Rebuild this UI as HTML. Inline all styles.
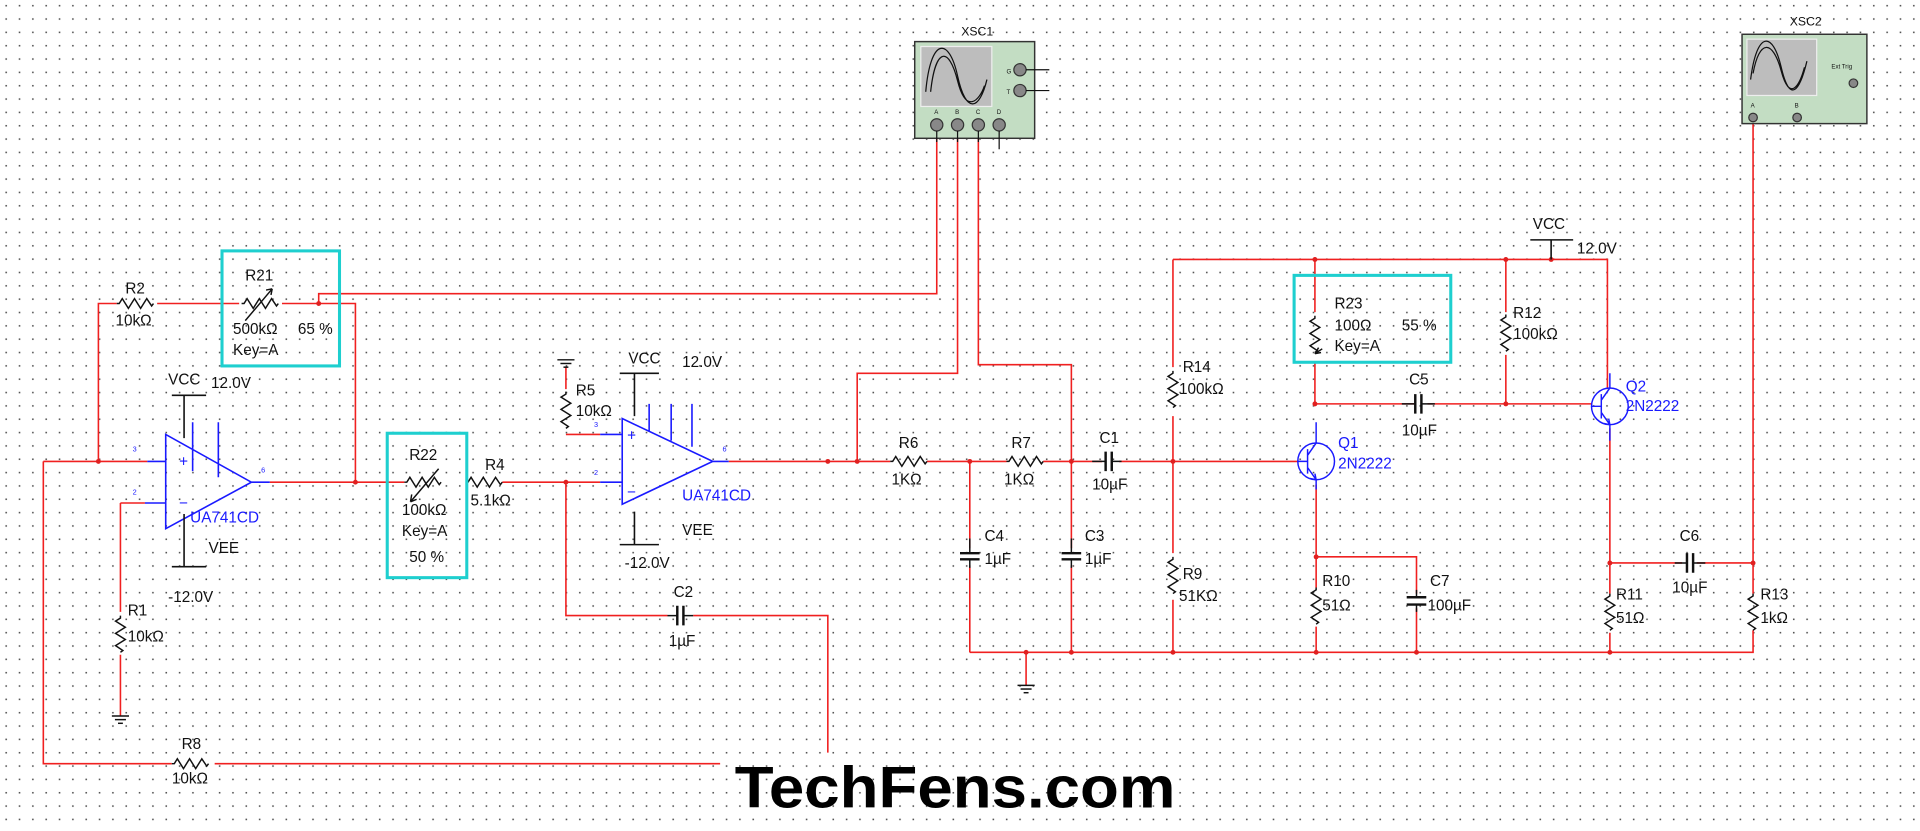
<!DOCTYPE html>
<html><head><meta charset="utf-8"><style>
html,body{margin:0;padding:0;background:#fff;}
svg{display:block}
text{font-family:"Liberation Sans",sans-serif;font-size:12.5px;fill:#111}
.b{fill:#1a1aff}
.s{font-size:6px;fill:#1a1aff}
.t5{font-size:5px}
.t9{font-size:10px}
</style></head><body>
<svg width="1920" height="831" viewBox="0 0 1568 679" xmlns="http://www.w3.org/2000/svg">
<defs>
<pattern id="g" width="10.9" height="10.9" patternUnits="userSpaceOnUse"><rect x="4" y="4" width="1.3" height="1.3" fill="#555"/></pattern>
<path id="hr" d="M0,0 h2 l2.5,-4 l5,8 l5,-8 l5,8 l5,-8 l4,6 l1.5,-2 h0" fill="none" stroke="#111" stroke-width="1.2"/>
<path id="vr" d="M0,0 v2 l-4,2.5 l8,5 l-8,5 l8,5 l-8,5 l6,4 l-2,1.5" fill="none" stroke="#111" stroke-width="1.2"/>
<g id="gnd" stroke="#111" stroke-width="1.2"><line x1="-7" y1="0" x2="7" y2="0"/><line x1="-4.5" y1="3" x2="4.5" y2="3"/><line x1="-2" y1="6" x2="2" y2="6"/></g>
</defs>
<rect width="1568" height="679" fill="url(#g)"/>

<g fill="none" stroke="#f02020" stroke-width="1.3">
<path d="M80,377 V248 H95 M128,248 H195 M230,248 H290 V394 M260,248 V240 H765 V113"/>
<path d="M35,377 H120 M35,377 V624 H140 M175,624 H588"/>
<path d="M98,411 H118 M98,411 V500 M98,535 V585"/>
<path d="M220,394 H330 M410,394 H490 M462,394 V503 H545 M566,503 H676 V615"/>
<path d="M462,300 V318 M462,355 H490"/>
<path d="M595,377 H727 M757,377 H822 M852,377 H900 M914,377 H1060"/>
<path d="M700,377 V305 H782 V113 M875,377 V298 H799 V113"/>
<path d="M792,377 V448 M792,462 V533 M875,377 V448 M875,462 V533"/>
<path d="M958,212 V300 M958,340 V452 M958,490 V533"/>
<path d="M792,533 H1432 V515 M838,533 V560"/>
<path d="M958,212 H1313 V318 M1074,212 V255 M1074,296 V330 H1155 M1166,330 H1300 M1230,212 V255 M1230,290 V330"/>
<path d="M1075,396 V455 H1157 V485 M1157,497 V533 M1075,455 V480 M1075,512 V533"/>
<path d="M1315,350 V460 H1374 M1386,460 H1432 M1315,460 V485 M1315,517 V533 M1432,460 V485 M1432,101 V460"/>
</g>
<g fill="#e02020">
<circle cx="80" cy="377" r="2"/><circle cx="260" cy="248" r="2"/><circle cx="290" cy="394" r="2"/><circle cx="462" cy="394" r="2"/>
<circle cx="676" cy="377" r="2"/><circle cx="700" cy="377" r="2"/><circle cx="792" cy="377" r="2"/><circle cx="875" cy="377" r="2"/><circle cx="958" cy="377" r="2"/>
<circle cx="1074" cy="212" r="2"/><circle cx="1230" cy="212" r="2"/><circle cx="1267" cy="212" r="2"/><circle cx="1074" cy="330" r="2"/><circle cx="1230" cy="330" r="2"/>
<circle cx="1075" cy="455" r="2"/><circle cx="1315" cy="460" r="2"/><circle cx="1432" cy="460" r="2"/>
<circle cx="875" cy="533" r="2"/><circle cx="958" cy="533" r="2"/><circle cx="1075" cy="533" r="2"/><circle cx="1157" cy="533" r="2"/><circle cx="1315" cy="533" r="2"/><circle cx="838" cy="533" r="2"/>
</g>

<use href="#hr" x="95" y="248"/><use href="#hr" x="140" y="624"/><use href="#hr" x="380" y="394"/>
<use href="#hr" x="727" y="377"/><use href="#hr" x="822" y="377"/>
<use href="#vr" x="98" y="503"/><use href="#vr" x="462" y="320"/>
<use href="#vr" x="958" y="303"/><use href="#vr" x="958" y="455"/><use href="#vr" x="1230" y="257"/>
<use href="#vr" x="1075" y="480"/><use href="#vr" x="1315" y="485"/><use href="#vr" x="1432" y="485"/><use href="#vr" x="1074" y="258"/>
<use href="#hr" x="197" y="248"/><path d="M200,262 L222,236 M222,236 l-5,1 M222,236 l-1,5" stroke="#111" fill="none" stroke-width="1.2"/>
<use href="#hr" x="330" y="394"/><path d="M335,410 L358,383 M335,410 l1,-6 M335,410 l5,-2" stroke="#111" fill="none" stroke-width="1.2"/>
<path d="M1080,285 l-6,4 m0,0 l3,-5 m-3,5 l5,-1" stroke="#111" fill="none" stroke-width="1.2"/>
<use href="#gnd" x="98" y="585"/><use href="#gnd" x="838" y="560"/><use href="#gnd" x="462" y="294"/>
<g stroke="#111" stroke-width="2">
<path d="M553,495 v16 M558,495 v16"/><path d="M903,369 v16 M908,369 v16"/>
<path d="M784,452 h16 M784,457 h16"/><path d="M867,452 h16 M867,457 h16"/>
<path d="M1156,322 v16 M1161,322 v16"/><path d="M1378,452 v16 M1383,452 v16"/>
<path d="M1149,488 h16 M1149,494 h16"/>
</g>
<g stroke="#111" stroke-width="1.2"><path d="M545,503 h8 M558,503 h8 M892,377 h11 M908,377 h8 M792,440 v12 M792,457 v7 M875,440 v12 M875,457 v7 M1145,330 h11 M1161,330 h11 M1368,460 h10 M1383,460 h10 M1157,482 v6 M1157,494 v6"/></g>

<g stroke="#1a1aff" stroke-width="1.3" fill="none">
<path d="M135,355 L135,432 L205,394 Z M120,377 H135 M118,411 H135 M205,394 H220 M157,345 V385 M178,345 V390"/>
<path d="M508,342 L508,412 L582,377 Z M490,355 H508 M490,394 H508 M582,377 H595 M530,330 V352 M548,330 V360 M565,330 V365"/>
</g>
<g stroke="#111" stroke-width="1.3"><path d="M140,323 H168 M150,323 V358 M150,420 V463 M140,463 H168 M506,305 H538 M518,305 V340 M518,418 V445 M506,445 H538 M1250,196 H1285 M1267,196 V212"/></g>
<text x="146" y="381" class="b">+</text><text x="146" y="415" class="b">−</text>
<text x="512" y="360" class="b">+</text><text x="512" y="406" class="b">−</text>
<text x="108" y="369" class="s">3</text><text x="108" y="404" class="s">2</text><text x="213" y="386" class="s">6</text>
<text x="485" y="349" class="s">3</text><text x="485" y="388" class="s">2</text><text x="590" y="369" class="s">6</text>

<g stroke="#1a1aff" stroke-width="1.2" fill="none">
<circle cx="1075" cy="377" r="15"/><path d="M1060,377 H1068 M1068,367 V387 M1068,372 L1075,362 V345 M1068,382 L1075,392 V400 M1075,392 l-5,-1 M1075,392 l-1,-5"/>
<circle cx="1315" cy="332" r="15"/><path d="M1300,332 H1308 M1308,322 V342 M1308,327 L1315,317 V305 M1308,337 L1315,347 V360 M1315,347 l-5,-1 M1315,347 l-1,-5"/>
</g>

<rect x="747" y="34" width="98" height="79" fill="#c3ddc3" stroke="#333" stroke-width="1.2"/>
<rect x="752" y="38" width="58" height="49" fill="#bdbdbd" stroke="#eee"/>
<path d="M756,75 C760,30 775,30 782,62 S800,90 806,65 M760,75 C764,38 775,38 782,66 S800,82 804,70" stroke="#111" fill="none"/>
<g fill="#888" stroke="#333"><circle cx="765" cy="102" r="5"/><circle cx="782" cy="102" r="5"/><circle cx="799" cy="102" r="5"/><circle cx="816" cy="102" r="5"/><circle cx="833" cy="57" r="5"/><circle cx="833" cy="74" r="5"/></g>
<path d="M838,57 H857 M838,74 H857 M765,107 V116 M782,107 V116 M799,107 V116 M816,107 V122" stroke="#111"/>
<text x="785" y="29" class="t9">XSC1</text>
<text x="763" y="93" class="t5">A</text><text x="780" y="93" class="t5">B</text><text x="797" y="93" class="t5">C</text><text x="814" y="93" class="t5">D</text>
<text x="822" y="60" class="t5">G</text><text x="822" y="77" class="t5">T</text>
<rect x="1423" y="28" width="102" height="73" fill="#c3ddc3" stroke="#333" stroke-width="1.2"/>
<rect x="1427" y="32" width="57" height="46" fill="#bdbdbd" stroke="#eee"/>
<path d="M1430,65 C1435,25 1448,25 1455,55 S1470,75 1476,50 M1432,60 C1437,32 1448,32 1455,58 S1470,70 1474,55" stroke="#111" fill="none"/>
<g fill="#888" stroke="#333"><circle cx="1432" cy="96" r="3.5"/><circle cx="1468" cy="96" r="3.5"/><circle cx="1514" cy="68" r="3.5"/></g>
<text x="1462" y="21" class="t9">XSC2</text><text x="1496" y="56" class="t5">Ext Trig</text>
<text x="1430" y="88" class="t5">A</text><text x="1466" y="88" class="t5">B</text>

<g fill="none" stroke="#1ecfcf" stroke-width="2.5">
<rect x="181" y="205" width="96" height="94"/><rect x="316" y="354" width="65" height="118"/><rect x="1057" y="225" width="128" height="71"/>
</g>

<text x="102" y="240">R2</text><text x="94" y="266">10kΩ</text>
<text x="200" y="229">R21</text><text x="190" y="273">500kΩ</text><text x="243" y="273">65 %</text><text x="190" y="290">Key=A</text>
<text x="137" y="314">VCC</text><text x="172" y="317">12.0V</text>
<text x="170" y="452">VEE</text><text x="137" y="492">-12.0V</text>
<text x="155" y="427" class="b">UA741CD</text>
<text x="104" y="503">R1</text><text x="104" y="524">10kΩ</text>
<text x="148" y="612">R8</text><text x="140" y="640">10kΩ</text>
<text x="334" y="376">R22</text><text x="328" y="421">100kΩ</text><text x="328" y="438">Key=A</text><text x="334" y="459">50 %</text>
<text x="396" y="384">R4</text><text x="384" y="413">5.1kΩ</text>
<text x="470" y="323">R5</text><text x="470" y="340">10kΩ</text>
<text x="513" y="297">VCC</text><text x="557" y="300">12.0V</text>
<text x="557" y="437">VEE</text><text x="510" y="464">-12.0V</text>
<text x="557" y="409" class="b">UA741CD</text>
<text x="550" y="488">C2</text><text x="546" y="528">1µF</text>
<text x="734" y="366">R6</text><text x="728" y="396">1KΩ</text>
<text x="826" y="366">R7</text><text x="820" y="396">1KΩ</text>
<text x="898" y="362">C1</text><text x="892" y="400">10µF</text>
<text x="804" y="442">C4</text><text x="804" y="461">1µF</text>
<text x="886" y="442">C3</text><text x="886" y="461">1µF</text>
<text x="966" y="304">R14</text><text x="963" y="322">100kΩ</text>
<text x="966" y="473">R9</text><text x="963" y="491">51KΩ</text>
<text x="1252" y="187">VCC</text><text x="1288" y="207">12.0V</text>
<text x="1090" y="252">R23</text><text x="1090" y="270">100Ω</text><text x="1145" y="270">55 %</text><text x="1090" y="287">Key=A</text>
<text x="1236" y="260">R12</text><text x="1236" y="277">100kΩ</text>
<text x="1151" y="314">C5</text><text x="1145" y="356">10µF</text>
<text x="1093" y="366" class="b">Q1</text><text x="1093" y="383" class="b">2N2222</text>
<text x="1328" y="320" class="b">Q2</text><text x="1328" y="336" class="b">2N2222</text>
<text x="1080" y="479">R10</text><text x="1080" y="499">51Ω</text>
<text x="1168" y="479">C7</text><text x="1166" y="499">100µF</text>
<text x="1372" y="442">C6</text><text x="1366" y="484">10µF</text>
<text x="1320" y="490">R11</text><text x="1320" y="509">51Ω</text>
<text x="1438" y="490">R13</text><text x="1438" y="509">1kΩ</text>

<text x="600" y="660" textLength="360" lengthAdjust="spacingAndGlyphs" style="font-size:48px;font-weight:bold;fill:#000">TechFens.com</text>
</svg>
</body></html>
